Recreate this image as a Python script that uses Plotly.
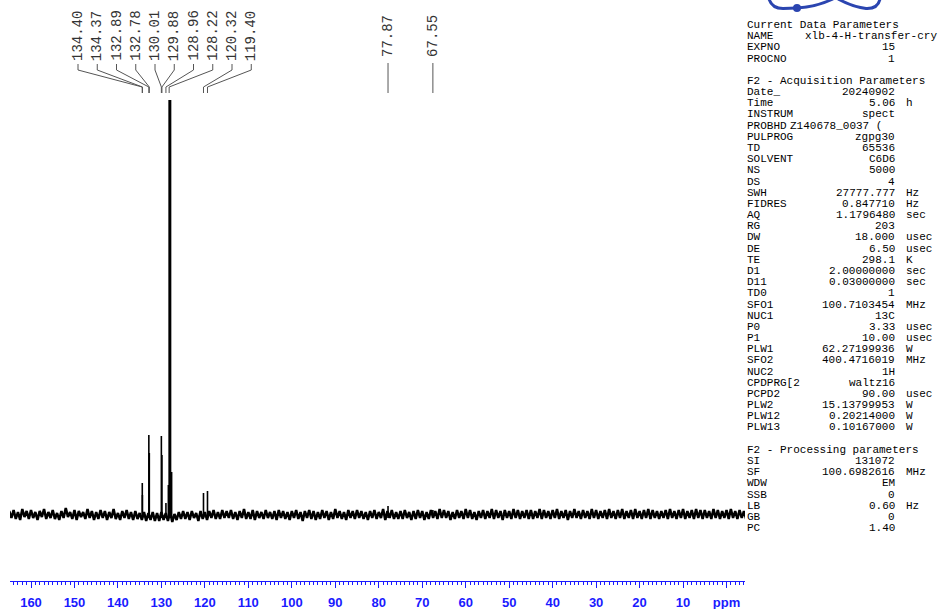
import plotly.graph_objects as go

# ---------------- data ----------------
# peak list (ppm, intensity above baseline, arbitrary units)
peak_ppm = [134.40, 134.37, 132.89, 132.78, 130.01, 129.88, 128.96, 128.40,
            128.22, 128.06, 127.90, 127.65, 120.32, 119.40, 77.87, 67.55]
peak_int = [32, 20, 80, 62, 79, 60, 12, 30,
            415, 415, 415, 43, 22, 24, 9, 5]

# labelled peaks (as printed above the spectrum)
group_labels = ["134.40", "134.37", "132.89", "132.78", "130.01",
                "129.88", "128.96", "128.22", "120.32", "119.40"]
single_labels = ["77.87", "67.55"]

# baseline noise, sampled every 0.5 ppm from 165.0 down to -4.5 ppm
noise_start = 165.0
noise_step = 0.5
noise = [
    4, -3, 5, -4, 3, -5, 6, -2, 4, -4, 5, -3, 3, -5, 4, -2, 6, -4, 3, -3,
    5, -4, 2, -5, 4, -3, 7, -2, 3, -4, 5, -5, 4, -2, 3, -4, 6, -3, 4, -5,
    3, -4, 5, -3, 4, -5, 3, -3, 6, -4, 2, -5, 4, -3, 5, -4, 3, -5, 4, -4,
    2, -5, 3, -6, 2, -5, 3, -6, 2, -6, 3, -5, 2, -6, 3, -7, 1, -5, 3, -4,
    4, -4, 3, -5, 4, -3, 2, -6, 4, -4, 3, -5, 4, -3, 5, -4, 3, -4, 5, -3,
    4, -3, 5, -4, 3, -5, 4, -3, 6, -4, 3, -4, 5, -5, 4, -3, 3, -4, 5, -3,
    3, -4, 4, -5, 5, -3, 4, -4, 3, -5, 4, -3, 5, -4, 3, -6, 4, -3, 5, -4,
    4, -5, 3, -4, 5, -3, 4, -5, 3, -4, 6, -3, 4, -4, 3, -5, 5, -3, 4, -4,
    5, -3, 4, -4, 3, -5, 4, -3, 5, -4, 3, -3, 6, -5, 4, -3, 5, -4, 3, -4,
    4, -4, 5, -3, 3, -5, 4, -4, 5, -3, 4, -5, 3, -4, 5, -3, 4, -4, 6, -3,
    5, -3, 4, -5, 3, -4, 5, -3, 4, -4, 6, -3, 5, -4, 3, -5, 4, -3, 5, -4,
    4, -3, 6, -4, 5, -3, 4, -5, 5, -3, 4, -4, 6, -3, 5, -4, 4, -3, 5, -4,
    5, -4, 4, -3, 6, -4, 5, -3, 4, -4, 5, -3, 6, -4, 4, -3, 5, -5, 4, -3,
    6, -3, 4, -4, 5, -3, 4, -4, 6, -3, 5, -4, 4, -3, 5, -4, 6, -3, 4, -4,
    5, -3, 6, -4, 4, -3, 5, -4, 6, -3, 4, -4, 5, -3, 6, -4, 5, -3, 4, -4,
    4, -3, 5, -4, 6, -3, 4, -4, 5, -3, 6, -4, 4, -3, 5, -4, 6, -3, 5, -4,
    5, -3, 4, -4, 6, -3, 5, -4, 4, -3, 5, -4, 6, -3, 4, -4, 5, -3, 4, -4,
]

tick_vals = [160, 150, 140, 130, 120, 110, 100, 90, 80, 70, 60, 50, 40, 30, 20, 10, 0]
tick_text = ["160", "150", "140", "130", "120", "110", "100", "90", "80", "70",
             "60", "50", "40", "30", "20", "10", "ppm"]

# acquisition / processing parameter panel: (name, value, unit)
params = [
    ("Current Data Parameters", None, None),
    ("NAME", "xlb-4-H-transfer-cry", None),
    ("EXPNO", "15", None),
    ("PROCNO", "1", None),
    None,
    ("F2 - Acquisition Parameters", None, None),
    ("Date_", "20240902", None),
    ("Time", "5.06", "h"),
    ("INSTRUM", "spect", None),
    ("PROBHD", "Z140678_0037 (", None),
    ("PULPROG", "zgpg30", None),
    ("TD", "65536", None),
    ("SOLVENT", "C6D6", None),
    ("NS", "5000", None),
    ("DS", "4", None),
    ("SWH", "27777.777", "Hz"),
    ("FIDRES", "0.847710", "Hz"),
    ("AQ", "1.1796480", "sec"),
    ("RG", "203", None),
    ("DW", "18.000", "usec"),
    ("DE", "6.50", "usec"),
    ("TE", "298.1", "K"),
    ("D1", "2.00000000", "sec"),
    ("D11", "0.03000000", "sec"),
    ("TD0", "1", None),
    ("SFO1", "100.7103454", "MHz"),
    ("NUC1", "13C", None),
    ("P0", "3.33", "usec"),
    ("P1", "10.00", "usec"),
    ("PLW1", "62.27199936", "W"),
    ("SFO2", "400.4716019", "MHz"),
    ("NUC2", "1H", None),
    ("CPDPRG[2", "waltz16", None),
    ("PCPD2", "90.00", "usec"),
    ("PLW2", "15.13799953", "W"),
    ("PLW12", "0.20214000", "W"),
    ("PLW13", "0.10167000", "W"),
    None,
    ("F2 - Processing parameters", None, None),
    ("SI", "131072", None),
    ("SF", "100.6982616", "MHz"),
    ("WDW", "EM", None),
    ("SSB", "0", None),
    ("LB", "0.60", "Hz"),
    ("GB", "0", None),
    ("PC", "1.40", None),
]

# ---------------- layout constants ----------------
W, H = 938, 609
X_LEFT, X_RIGHT = 10, 745          # pixel extent of the ppm axis
Y_TOP, Y_AXIS = 90, 581            # pixel extent of the plot area
PPM_LEFT, PPM_RIGHT = 164.83, -4.25
BLUE = "#1a1aff"


def px(x):
    return x / W


def py(y):
    return 1 - y / H


def pix_to_ppm(x):
    return PPM_LEFT + (x - X_LEFT) * (PPM_RIGHT - PPM_LEFT) / (X_RIGHT - X_LEFT)


fig = go.Figure()

# baseline noise trace
noise_x = [noise_start - i * noise_step for i in range(len(noise))]
fig.add_trace(go.Scatter(x=noise_x, y=noise, mode="lines",
                         line=dict(color="black", width=2.5),
                         hoverinfo="skip", showlegend=False))

# peak sticks
sx, sy = [], []
for p, h in zip(peak_ppm, peak_int):
    sx += [p, p, None]
    sy += [-3, h, None]
fig.add_trace(go.Scatter(x=sx, y=sy, mode="lines",
                         line=dict(color="black", width=1.6),
                         hoverinfo="skip", showlegend=False))

annotations = []
shapes = []

# peak labels + connectors
label_font = dict(family="Liberation Mono, Courier New, monospace", size=14, color="#333333")
LABEL_CY = 36
for i, txt in enumerate(group_labels):
    lx = pix_to_ppm(78 + i * 19.25)
    pk = float(txt)
    annotations.append(dict(x=lx, y=py(LABEL_CY), xref="x", yref="paper", text=txt,
                            textangle=-90, showarrow=False, font=label_font,
                            xanchor="center", yanchor="middle"))
    shapes.append(dict(type="path", xref="x", yref="paper",
                       path=f"M {lx},{py(64)} L {lx},{py(70)} L {pk},{py(87)} L {pk},{py(93)}",
                       line=dict(color="#555555", width=1)))
for txt in single_labels:
    pk = float(txt)
    annotations.append(dict(x=pk, y=py(LABEL_CY), xref="x", yref="paper", text=txt,
                            textangle=-90, showarrow=False, font=label_font,
                            xanchor="center", yanchor="middle"))
    shapes.append(dict(type="line", xref="x", yref="paper", x0=pk, x1=pk,
                       y0=py(63), y1=py(93), line=dict(color="#555555", width=1)))

# parameter panel
pfont = dict(family="Liberation Mono, Courier New, monospace", size=11, color="black")
LINE0, LSTEP = 25, 11.18
for i, row in enumerate(params):
    if row is None:
        continue
    name, val, unit = row
    yy = py(LINE0 + i * LSTEP)
    annotations.append(dict(x=px(745), y=yy, xref="paper", yref="paper", text=name,
                            showarrow=False, font=pfont, xanchor="left", yanchor="middle"))
    if val is not None:
        if name == "NAME":
            annotations.append(dict(x=px(803), y=yy, xref="paper", yref="paper", text=val,
                                    showarrow=False, font=pfont, xanchor="left", yanchor="middle"))
        elif name == "PROBHD":
            annotations.append(dict(x=px(884), y=yy, xref="paper", yref="paper", text=val,
                                    showarrow=False, font=pfont, xanchor="right", yanchor="middle"))
        else:
            annotations.append(dict(x=px(897), y=yy, xref="paper", yref="paper", text=val,
                                    showarrow=False, font=pfont, xanchor="right", yanchor="middle"))
    if unit is not None:
        annotations.append(dict(x=px(904), y=yy, xref="paper", yref="paper", text=unit,
                                showarrow=False, font=pfont, xanchor="left", yanchor="middle"))

# logo fragment (top right)
LOGO = "#2b45b0"
shapes.append(dict(type="path", xref="paper", yref="paper",
                   path=(f"M {px(769)},{py(-1)} Q {px(772)},{py(8.5)} {px(783)},{py(8.5)} "
                         f"L {px(797)},{py(8)} Q {px(816)},{py(7)} {px(833)},{py(-1)}"),
                   line=dict(color=LOGO, width=3)))
shapes.append(dict(type="path", xref="paper", yref="paper",
                   path=(f"M {px(838)},{py(-1)} Q {px(853)},{py(7)} {px(866)},{py(8.5)} "
                         f"Q {px(878)},{py(9)} {px(880)},{py(-1)}"),
                   line=dict(color=LOGO, width=3)))
shapes.append(dict(type="circle", xref="paper", yref="paper",
                   x0=px(793), x1=px(801), y0=py(12), y1=py(4),
                   fillcolor=LOGO, line=dict(color=LOGO, width=0)))

fig.update_layout(
    width=W, height=H,
    margin=dict(l=0, r=0, t=0, b=0),
    paper_bgcolor="white", plot_bgcolor="white",
    showlegend=False,
    annotations=annotations,
    shapes=shapes,
    xaxis=dict(domain=[px(X_LEFT), px(X_RIGHT)], range=[PPM_LEFT, PPM_RIGHT],
               showgrid=False, zeroline=False, showline=True, linecolor=BLUE, linewidth=1,
               ticks="outside", ticklen=6, tickwidth=1, tickcolor=BLUE,
               tickvals=tick_vals, ticktext=tick_text,
               tickfont=dict(family="Liberation Sans, Arial, sans-serif", size=13,
                             color=BLUE, weight="bold"),
               ticklabelstandoff=3,
               minor=dict(dtick=1, ticks="outside", ticklen=3, tickcolor=BLUE, tickwidth=1,
                          showgrid=False)),
    yaxis=dict(domain=[1 - Y_AXIS / H, 1 - Y_TOP / H], range=[-66, 425],
               visible=False, showgrid=False, zeroline=False),
)

fig.write_html("out.html", config={"displayModeBar": False, "staticPlot": True},
               post_script="document.body.style.margin='0';document.body.style.overflow='hidden';")
